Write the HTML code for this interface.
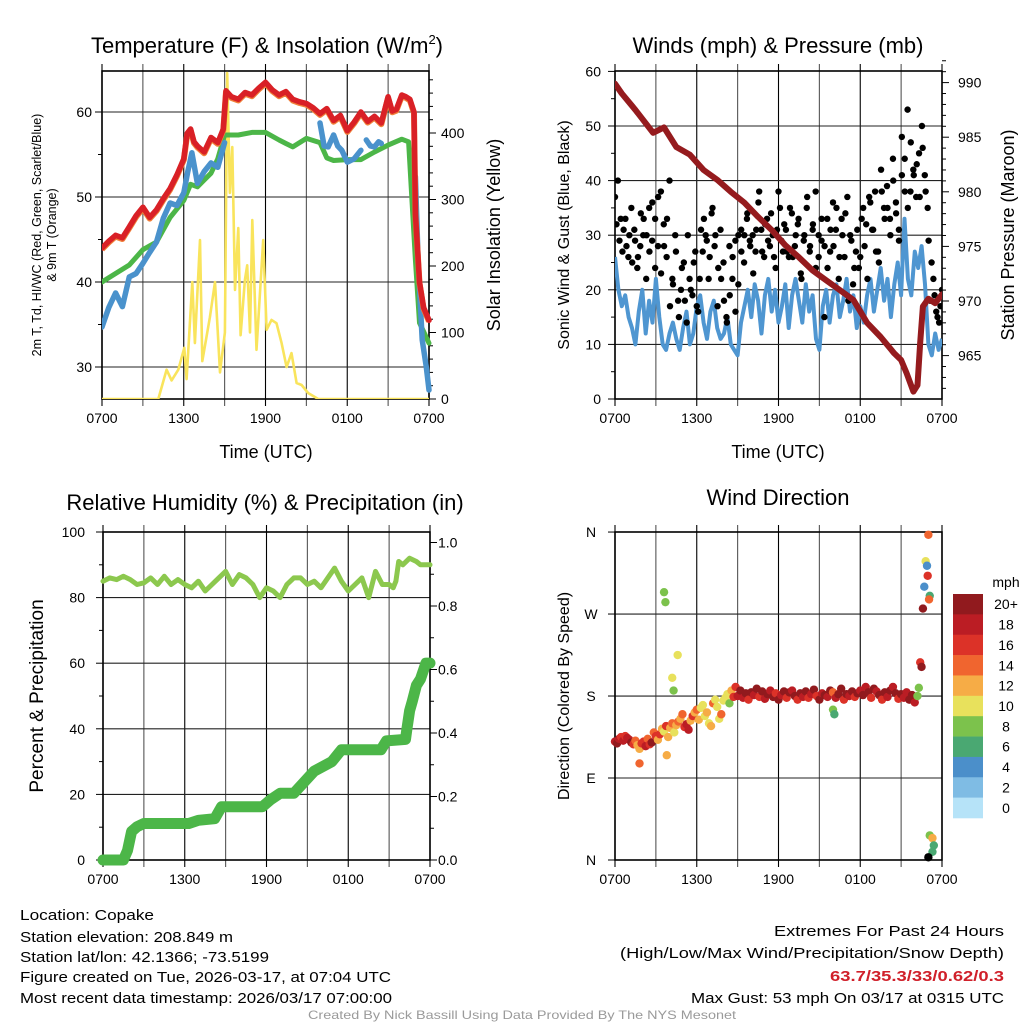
<!DOCTYPE html>
<html><head><meta charset="utf-8">
<style>
html,body{margin:0;padding:0;background:#fff;}
svg{display:block;font-family:"Liberation Sans",Arial,sans-serif;}
</style></head>
<body>
<svg id="chart" width="1024" height="1024" viewBox="0 0 1024 1024" xmlns="http://www.w3.org/2000/svg"></svg>
<script>
// ---------- DATA ----------
const tempT   = [0,0.5,1,1.5,2,2.5,3,3.5,4,4.5,5,5.5,6,6.25,6.5,6.75,7,7.5,8,8.5,8.9,9.1,9.5,10,10.5,11,11.5,12,12.5,13,13.5,14,14.5,15,15.5,16,16.5,17,17.5,18,18.5,19,19.5,20,20.5,21,21.3,21.6,22,22.3,22.6,22.9,23,23.3,23.6,24];
const tempV   = [44,44.8,45.5,45.2,46.5,47.8,48.8,47.6,48.5,49.8,51,52.6,54.5,57.5,58,56.5,56,55.3,57,56.4,58,62.5,61.8,61.5,62.3,62,62.8,63.5,62.6,62,62.4,61.5,61.2,61,60.5,59.8,60.4,59,59.6,57.8,58.8,60,58.9,59.5,58.7,61.8,60.1,60.3,62,61.8,61.5,60,48,40,37,35.5];
const dewT    = [0,1,2,3,4,5,6,6.5,7,7.5,8,8.5,9,10,11,12,13,13.5,14,15,16,16.5,17,18,19,20,21,22,22.5,23,23.3,24];
const dewV    = [40,41,42,43.8,44.7,47.6,49.6,51.5,51.2,52,52.8,54.5,57.3,57.3,57.6,57.6,56.7,56.3,55.9,56.9,56.4,54.6,54.3,54.4,54.4,55.3,56.1,56.8,56.5,42.6,35.2,32.8];
const wcT     = [0,0.5,1,1.5,2,2.5,3,3.5,4,4.5,5,5.5,6,6.3,6.6,7,7.5,8,8.5,9,null,16,16.3,16.6,17,17.3,17.6,18,18.5,19,null,19.4,19.7,20,20.3,20.5,null,23,23.2,23.5,23.8,24];
const wcV     = [34.7,37,38.7,37.1,40.6,41,42.2,43.5,44.7,47.5,49.3,49,50.5,53,55.2,51.6,53,54,53.5,56.4,null,58.7,56,55.9,57.3,56,55.5,54.1,54.5,55.5,null,56.7,56,55.9,56.5,56.3,null,52.4,42.6,33.2,30,27.3];
const solarT  = [0,4.13,4.74,5.11,5.6,6.04,6.21,6.63,6.82,7.19,7.36,7.92,8.29,8.66,9.02,9.19,9.39,9.56,9.76,10.0,10.17,10.49,10.66,10.86,11.03,11.34,11.83,12.08,12.44,12.81,13.18,13.55,13.91,14.28,14.65,15.13,15.87,24];
const solarV  = [0,0,44,28,44,77,30,176,84,239,57,123,176,40,100,490,310,379,164,257,96,179,201,100,269,74,239,104,119,114,84,48,69,24,21,9,0,0];
const windV   = [26,20,17,19,15,13,10,16,20,12,18,14,22,
                 15,10,9,12,14,11,9,13,16,10,12,17,
                 19,14,11,16,18,13,11,12,15,10,9,8,
                 14,17,20,15,21,18,12,19,22,16,20,14,
                 17,21,13,19,22,18,14,21,16,19,11,9,
                 17,20,14,19,21,15,18,22,16,19,13,17,
                 14,19,22,16,20,24,18,22,15,21,25,19,
                 33,22,19,27,24,28,21,10,8,12,9,11];
const presT   = [0,0.5,1.5,2.8,3.6,4.5,5.5,6.5,7.5,8.5,9.5,10.5,11.5,12.5,13.5,14.5,15.5,16.5,17.5,18.5,19.5,20.5,21,21.4,21.9,22.2,22.4,22.6,23,23.5,24];
const presV   = [989.9,989,987.5,985.4,985.9,984.1,983.4,982,981.1,980,979,977.7,976.5,975.1,974,972.8,971.9,971,970.1,968,966.7,965.2,964.6,963.4,961.7,962.3,966.2,969.5,970.2,969.8,970.6];
const gustV   = [37,40,33,31,28,30,25,29,26,34,33,30,27,36,24,28,
                 38,32,26,40,22,30,18,20,25,14,22,19,27,16,
                 31,33,29,26,35,30,24,22,18,14,19,26,16,21,
                 31,25,33,29,30,27,36,31,26,33,28,30,24,38,
                 29,32,27,35,26,30,33,22,30,37,28,32,24,30,
                 29,15,33,27,36,31,22,33,26,37,30,21,27,24,
                 33,28,22,36,31,27,25,38,33,35,30,40,34,29,
                 48,44,53,38,42,37,45,50,41,35,18,22,16,14,20];
const gust2V  = [32,29,27,33,26,35,31,24,28,30,22,35,29,33,37,
                 23,28,33,17,21,27,15,24,18,30,20,25,17,22,
                 27,30,22,34,28,17,31,25,15,28,22,29,30,27,
                 30,34,28,23,31,38,27,32,29,34,26,31,35,27,
                 31,26,34,28,32,23,29,35,27,31,38,26,33,28,
                 24,31,28,35,26,30,34,18,29,24,31,26,35,32,
                 37,31,38,27,42,35,39,33,44,36,31,41,38,35,
                 47,41,43,37,46,38,29,25,19,15,17];
const rhT     = [0,0.5,1,1.5,2,2.5,3,3.5,4,4.5,5,5.5,6,6.5,7,7.5,8,8.5,9,9.5,10,10.5,11,11.5,12,12.5,13,13.5,14,14.5,15,15.5,16,16.5,17,17.5,18,18.5,19,19.5,20,20.5,21,21.3,21.5,21.7,22,22.5,23,23.3,24];
const rhV     = [85,86,85.5,86.5,85.5,84,84.5,86,84,86.5,84,85.5,84,83,85,82,84,86,88,84,87,86,84,80,83,82,80,84,86,86,84,85,83,86,89,85,82,84,86,80,88,84,84,83,85,91,90,92,91,90,90];
const prT     = [0,1.5,1.8,2.1,2.5,3,6.3,7,8.2,8.7,11.7,12.3,13,14,15.5,16.8,17.5,20.4,20.8,22.2,22.3,22.5,22.7,23,23.3,23.7,24];
const prV     = [0,0,0.03,0.09,0.105,0.115,0.115,0.125,0.13,0.168,0.168,0.19,0.21,0.21,0.28,0.31,0.347,0.347,0.375,0.38,0.41,0.47,0.5,0.55,0.57,0.62,0.62];
const dirT    = [0,0.15,0.3,0.45,0.6,0.75,0.9,1.05,1.2,1.35,1.5,1.65,1.8,1.95,2.1,2.25,2.4,2.55,2.7,2.85,3.0,3.15,3.3,3.45,3.6,3.75,3.9,4.05,4.2,4.35,4.5,4.65,4.8,4.95,5.1,5.25,5.4,5.55,5.7,5.85,6.0,6.15,6.3,6.45,6.6,6.75,6.9,7.05,7.2,7.35,7.5,7.65,7.8,7.95,8.1,8.25,8.4,8.55,8.7,8.85,
                 9.0,9.2,9.4,9.6,9.8,10,10.2,10.4,10.6,10.8,11,11.2,11.4,11.6,11.8,12,12.2,12.4,12.6,12.8,13,13.2,13.4,13.6,13.8,14,14.2,14.4,14.6,14.8,15,15.2,15.4,15.6,15.8,16,16.2,16.4,16.6,16.8,17,17.2,17.4,17.6,17.8,18,18.2,18.4,18.6,18.8,19,19.2,19.4,19.6,19.8,20,20.2,20.4,20.6,20.8,21,21.2,21.4,21.6,21.8,22,22.2,
                 3.6,3.7,4.6,4.2,4.3,1.8,3.8,16,16.1,
                 23.0,22.8,22.9,22.95,22.7,23.1,23.05,22.6,22.4,22.5,22.3,
                 23.1,23.3,23.4,23.3,23.0];
const dirD    = [130,128,133,135,131,136,134,132,129,127,131,126,122,128,130,125,133,127,129,140,136,132,138,144,141,147,135,145,150,140,148,152,155,160,146,149,143,153,158,162,165,154,167,170,158,162,150,147,172,176,168,155,160,175,178,182,172,186,179,190,
                 180,186,178,183,176,184,181,188,179,185,177,182,186,179,183,176,181,185,178,184,186,180,176,183,179,185,178,182,187,180,176,183,181,179,186,184,178,182,188,176,182,180,185,179,183,186,181,190,184,178,188,185,181,176,184,179,186,190,183,177,182,178,184,176,181,173,180,
                 294,283,225,200,186,106,115,165,160,
                 357,328,323,312,300,290,286,276,217,212,189,
                 27,24,16,9,3];
const dirS    = [18,20,19,17,18,16,19,18,20,17,15,13,12,16,17,19,14,16,20,15,17,12,16,13,11,16,12,12,14,10,12,14,13,14,17,18,18,12,16,13,15,12,10,11,11,12,11,12,14,10,10,11,14,10,11,10,8,12,16,17,
                 19,20,18,21,17,20,19,21,16,20,18,21,19,20,17,21,18,20,16,21,19,20,17,21,18,20,16,19,21,17,20,18,21,19,20,14,18,20,21,17,20,18,21,16,20,19,21,18,20,16,21,19,20,17,21,19,20,18,21,17,20,18,19,21,20,18,
                 8,8,8,10,10,8,14,12,8,
                 6,14,10,4,16,4,6,14,20,16,20,
                 8,8,12,6,6];
const colorLevels = ["0","2","4","6","8","10","12","14","16","18","20+"];
const colorFills  = ["#b6e3f8","#7fbce4","#4b8fca","#4aa872","#7cc24c","#e8e15c","#f6ac46","#f0652f","#dc3228","#bb1d24","#911a1e"];
const xTickLabels = ["0700","1300","1900","0100","0700"];
const xTickHours  = [0,6,12,18,24];

// ---------- HELPERS ----------
const NS="http://www.w3.org/2000/svg";
const svg=document.getElementById('chart');
function mk(tag,attrs,parent){const e=document.createElementNS(NS,tag);for(const k in attrs)e.setAttribute(k,attrs[k]);(parent||svg).appendChild(e);return e;}
function txt(s,x,y,size,anchor,parent,extra){const e=mk('text',Object.assign({x:x,y:y,'font-size':size,'text-anchor':anchor||'middle',fill:'#000'},extra||{}),parent);e.textContent=s;return e;}
function linePath(ts,vs,xf,yf){let d='',pen=false;for(let i=0;i<ts.length;i++){if(ts[i]===null||vs[i]===null){pen=false;continue;}d+=(pen?'L':'M')+xf(ts[i]).toFixed(1)+' '+yf(vs[i]).toFixed(1);pen=true;}return d;}

function frame(name,x0,x1,y0,y1,hGrid){
  const g=mk('g',{});
  
  
  const xf=t=>x0+t*(x1-x0)/24;
  for(let h=0;h<=24;h+=3){
    const gl=mk('line',{x1:xf(h),x2:xf(h),y1:y0-7,y2:y1+7,stroke:(h%6===0)?'#000':'#555','stroke-width':1.1},g);
    
    
  }
  hGrid.forEach(y=>{
    const hl=mk('line',{x1:x0,x2:x1,y1:y,y2:y,stroke:'#222','stroke-width':1.1},g);
    
    
  });
  const bx=mk('rect',{x:x0,y:y0,width:x1-x0,height:y1-y0,fill:'none',stroke:'#000','stroke-width':1.6},g);
  
  
  for(let i=0;i<xTickHours.length;i++){
    const t=txt(xTickLabels[i],xf(xTickHours[i]),y1+24,14,'middle',g);
    
    
  }
  return {g,xf};
}
function yTicks(g,x,yf,lo,hi,major,minor,dir,fmt,labelOff){
  for(let v=lo;v<=hi+1e-9;v+=minor){
    const isMaj=Math.abs(Math.round(v/major)*major-v)<1e-6;
    const y=yf(v);
    const tk=mk('line',{x1:x,x2:x+dir*(isMaj?7:4),y1:y,y2:y,stroke:'#000','stroke-width':1},g);
    
    
    if(isMaj){
      const t=txt(fmt(v),x+dir*labelOff,y+5,14,dir<0?'end':'start',g);
      
      
    }
  }
}

// ---------- PANEL 1 ----------
(function(){
  const x0=102,x1=429,y0=71,y1=399;
  const yT=v=>112+(60-v)*8.5, yS=s=>399-s*0.665;
  const f=frame('temperature',x0,x1,y0,y1,[yT(30),yT(40),yT(50),yT(60)]);
  yTicks(f.g,x0,yT,30,60,10,5,-1,v=>String(v),10);
  yTicks(f.g,x1,yS,0,480,100,20,1,v=>String(v),12);
  const clip=mk('clipPath',{id:'c1'});mk('rect',{x:x0,y:y0-8,width:x1-x0+4,height:y1-y0+8},clip);
  const sg=mk('g',{'clip-path':'url(#c1)'});
  
  
  const ys=mk('path',{d:linePath(solarT,solarV,f.xf,yS),fill:'none',stroke:'#f9e45c','stroke-width':2.6,'stroke-linejoin':'round'},sg);
  
  
  const gd=mk('path',{d:linePath(dewT,dewV,f.xf,yT),fill:'none',stroke:'#4cb648','stroke-width':5,'stroke-linejoin':'round','stroke-linecap':'round'},sg);
  
  
  const bw=mk('path',{d:linePath(wcT,wcV,f.xf,yT),fill:'none',stroke:'#4a92cc','stroke-width':5.5,'stroke-linejoin':'round','stroke-linecap':'round'},sg);
  
  
  const orl=mk('path',{d:linePath(tempT,tempV,f.xf,yT),fill:'none',stroke:'#f0803a','stroke-width':6,'stroke-linejoin':'round',transform:'translate(0,1.2)'},sg);
  
  
  const rd=mk('path',{d:linePath(tempT,tempV,f.xf,yT),fill:'none',stroke:'#d92026','stroke-width':5.5,'stroke-linejoin':'round','stroke-linecap':'round'},sg);
  
  
  let t=mk('text',{x:267,y:53,'font-size':22,'text-anchor':'middle',fill:'#000'});
  
  
  t.appendChild(document.createTextNode('Temperature (F) & Insolation (W/m'));
  const sup=mk('tspan',{dy:-9,'font-size':13},t);sup.textContent='2';
  const cl=mk('tspan',{dy:9,'font-size':22},t);cl.textContent=')';
  t=txt('Time (UTC)',266,458,18,'middle');
  t=txt('Solar Insolation (Yellow)',0,0,18,'middle',null,{transform:'translate(500,235) rotate(-90)'});
  t=txt('2m T, Td, HI/WC (Red, Green, Scarlet/Blue)',0,0,12.5,'middle',null,{transform:'translate(41,235) rotate(-90)'});
  t=txt('& 9m T (Orange)',0,0,12.5,'middle',null,{transform:'translate(56,235) rotate(-90)'});
})();

// ---------- PANEL 2 ----------
(function(){
  const x0=615,x1=942,y0=71,y1=399;
  const yW=v=>399-v*5.46, yP=p=>301-(p-970)*10.92;
  const f=frame('winds',x0,x1,y0,y1,[yW(10),yW(20),yW(30),yW(40),yW(50)]);
  yTicks(f.g,x0,yW,0,60,10,5,-1,v=>String(v),14);
  yTicks(f.g,x1,yP,962,992,5,1,1,v=>String(v),16);
  const clip=mk('clipPath',{id:'c2'});mk('rect',{x:x0,y:y0,width:x1-x0,height:y1-y0},clip);
  const sg=mk('g',{'clip-path':'url(#c2)'});
  
  
  const wT=windV.map((v,i)=>i*24/(windV.length-1));
  const wl=mk('path',{d:linePath(wT,windV,f.xf,yW),fill:'none',stroke:'#4f96d1','stroke-width':4,'stroke-linejoin':'round'},sg);
  
  
  const gg=mk('g',{},sg);
  
  
  for(let i=0;i<gustV.length;i++){
    const c=mk('circle',{cx:f.xf(i*24/(gustV.length-1)),cy:yW(gustV[i]),r:3.2,fill:'#000'},gg);
    
    
  }
  for(let i=0;i<gust2V.length;i++){
    const c=mk('circle',{cx:f.xf((i+0.5)*24/(gust2V.length)),cy:yW(gust2V[i]),r:3.2,fill:'#000'},gg);
    
    
  }
  const pl=mk('path',{d:linePath(presT,presV,f.xf,yP),fill:'none',stroke:'#951b1e','stroke-width':6,'stroke-linejoin':'round','stroke-linecap':'round'},sg);
  
  
  let t=txt('Winds (mph) & Pressure (mb)',778,53,22,'middle');
  t=txt('Time (UTC)',778,458,18,'middle');
  t=txt('Sonic Wind & Gust (Blue, Black)',0,0,16,'middle',null,{transform:'translate(569,235) rotate(-90)'});
  t=txt('Station Pressure (Maroon)',0,0,18,'middle',null,{transform:'translate(1014,235) rotate(-90)'});
})();

// ---------- PANEL 3 ----------
(function(){
  const x0=103,x1=430,y0=532,y1=860;
  const yR=v=>860-v*3.28, yPr=p=>860-p*317.5;
  const f=frame('humidity',x0,x1,y0,y1,[yR(20),yR(40),yR(60),yR(80)]);
  yTicks(f.g,x0,yR,0,100,20,10,-1,v=>String(v),18);
  yTicks(f.g,x1,yPr,0,1.0,0.2,0.1,1,v=>v.toFixed(1),8);
  const sg=mk('g',{});
  
  
  const rl=mk('path',{d:linePath(rhT,rhV,f.xf,yR),fill:'none',stroke:'#8cc84e','stroke-width':5,'stroke-linejoin':'round','stroke-linecap':'round'},sg);
  
  
  const pr=mk('path',{d:linePath(prT,prV,f.xf,yPr),fill:'none',stroke:'#4cb648','stroke-width':11,'stroke-linejoin':'round','stroke-linecap':'round'},sg);
  
  
  let t=txt('Relative Humidity (%) & Precipitation (in)',265,510,22,'middle');
  t=txt('Percent & Precipitation',0,0,19,'middle',null,{transform:'translate(43,696) rotate(-90)'});
})();

// ---------- PANEL 4 ----------
(function(){
  const x0=615,x1=942,y0=532,y1=860;
  const yD=d=>860-d*0.911;
  const f=frame('wind-direction',x0,x1,y0,y1,[yD(90),yD(180),yD(270)]);
  const dl=['N','E','S','W','N'];
  for(let i=0;i<5;i++){
    const tk=mk('line',{x1:x0,x2:x0-7,y1:yD(i*90),y2:yD(i*90),stroke:'#000'},f.g);
    
    
    const t=txt(dl[i],591,yD(i*90)+5,14,'middle',f.g);
    
    
  }
  const dg=mk('g',{});
  
  
  for(let i=0;i<dirT.length;i++){
    const k=Math.min(10,Math.floor(dirS[i]/2));
    const c=mk('circle',{cx:f.xf(dirT[i]),cy:yD(dirD[i]),r:4.2,fill:colorFills[k]},dg);
    
    
  }
  const cb=mk('g',{});
  
  
  const bh=224/11;
  for(let i=0;i<11;i++){
    const j=10-i;
    const r=mk('rect',{x:953,y:594+i*bh,width:30,height:bh+0.3,fill:colorFills[j]},cb);
    
    
    const t=txt(colorLevels[j],1006,594+i*bh+bh/2+5,14,'middle',cb);
    
    
  }
  let t=txt('mph',1006,587,14,'middle',cb);
  t=txt('Wind Direction',778,505,22,'middle');
  t=txt('Direction (Colored By Speed)',0,0,16,'middle',null,{transform:'translate(569,696) rotate(-90)'});
})();

// ---------- FOOTER ----------
(function(){
  const left=['Location: Copake','Station elevation: 208.849 m','Station lat/lon: 42.1366; -73.5199','Figure created on Tue, 2026-03-17, at 07:04 UTC','Most recent data timestamp: 2026/03/17 07:00:00'];
  const lw=[134,213,249,371,372];
  const ly=[920,942,962,982,1003];
  for(let i=0;i<5;i++){
    const t=txt(left[i],20,ly[i],15,'start',null,{textLength:lw[i],lengthAdjust:'spacingAndGlyphs'});
    
    
  }
  let t=txt('Extremes For Past 24 Hours',1004,936,15,'end',null,{textLength:230,lengthAdjust:'spacingAndGlyphs'});
  t=txt('(High/Low/Max Wind/Precipitation/Snow Depth)',1004,958,15,'end',null,{textLength:384,lengthAdjust:'spacingAndGlyphs'});
  t=txt('63.7/35.3/33/0.62/0.3',1004,981,15,'end',null,{fill:'#d0202a','font-weight':'bold',textLength:174,lengthAdjust:'spacingAndGlyphs'});
  t=txt('Max Gust: 53 mph On 03/17 at 0315 UTC',1004,1003,15,'end',null,{textLength:313,lengthAdjust:'spacingAndGlyphs'});
  t=txt('Created By Nick Bassill Using Data Provided By The NYS Mesonet',522,1019,12,'middle',null,{fill:'#9a9a9a',textLength:428,lengthAdjust:'spacingAndGlyphs'});
})();
</script>
</body></html>
